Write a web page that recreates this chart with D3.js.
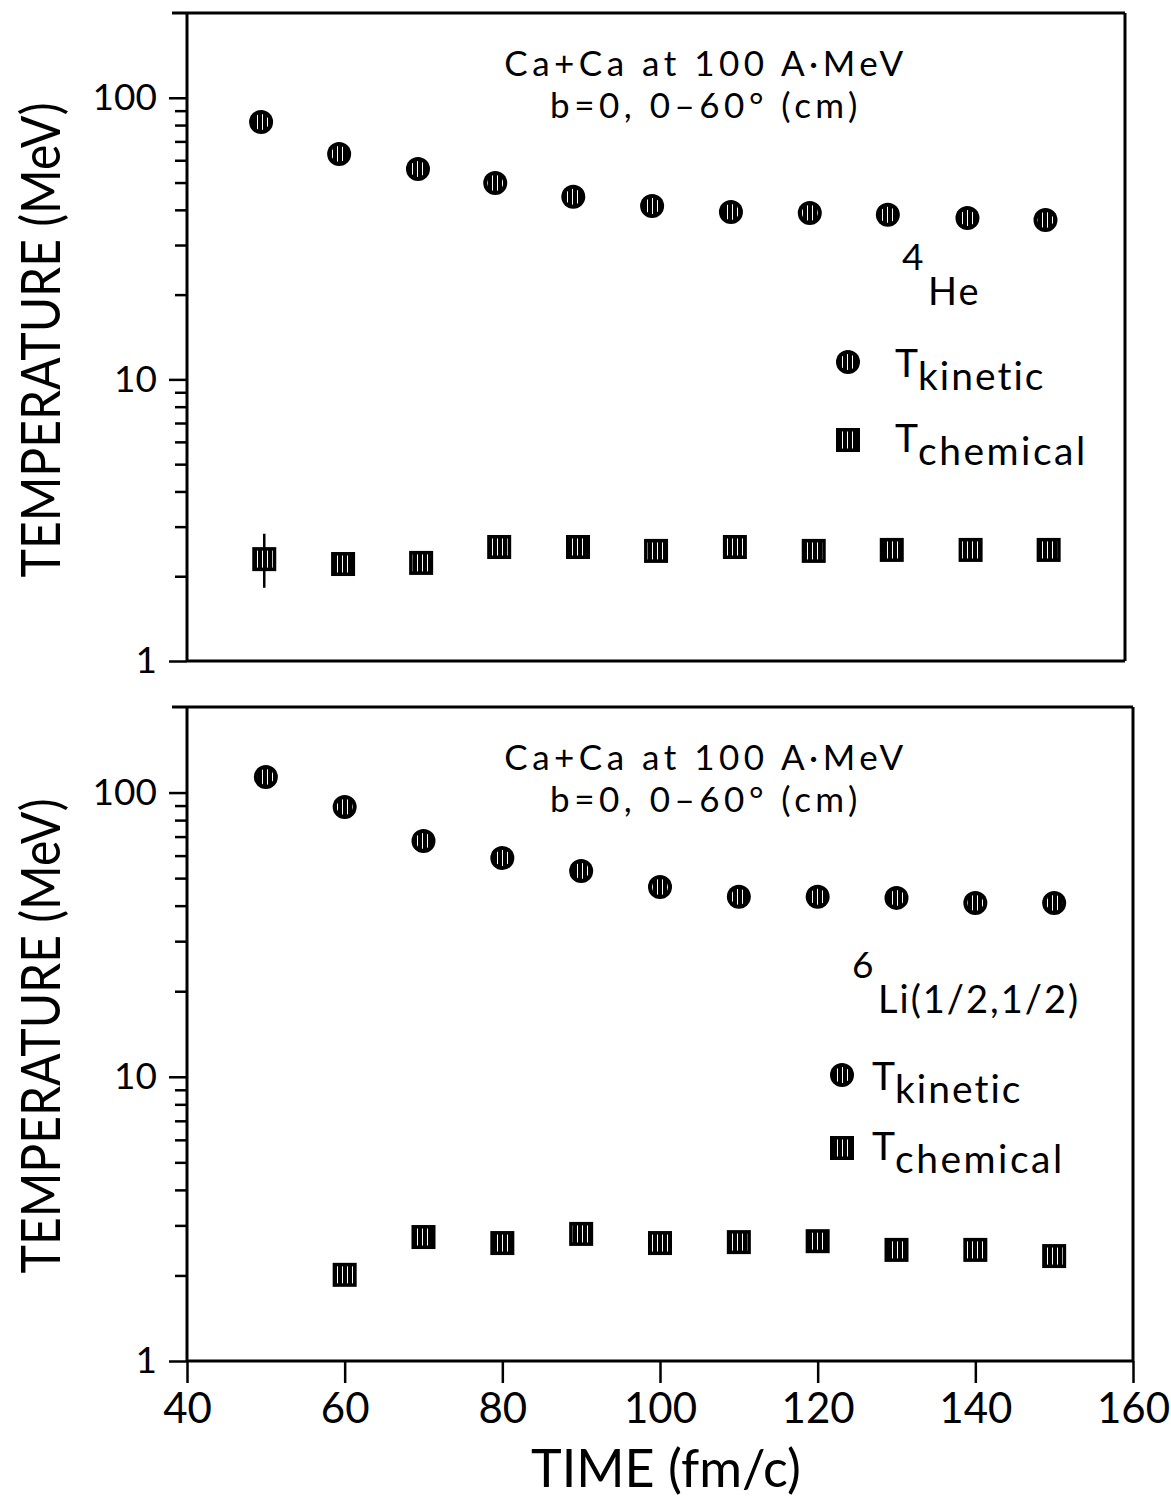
<!DOCTYPE html>
<html><head><meta charset="utf-8">
<script src="https://cdn.jsdelivr.net/npm/d3@7"></script>
<style>
body{margin:0;background:#fff}
svg{display:block}
text{font-family:Lato,'Open Sans',sans-serif;fill:#000}
</style>
</head><body>
<svg id="c" width="1171" height="1502"></svg>
<script>
// ---- data ----
const xTickValues = [40, 60, 80, 100, 120, 140, 160];
const yMajorTicks = [1, 10, 100];
const yMinorTicks = [2, 3, 4, 5, 6, 7, 8, 9, 20, 30, 40, 50, 60, 70, 80, 90];

const heTimeKinetic = [49.4, 59.3, 69.3, 79.1, 89, 99, 109, 119, 128.9, 139, 148.9];
const heKinetic = [82, 63.2, 55.9, 49.8, 44.5, 41.3, 39.3, 39.0, 38.4, 37.4, 36.8];
const heTimeChemical = [49.8, 59.8, 69.7, 79.6, 89.6, 99.5, 109.5, 119.5, 129.4, 139.4, 149.3];
const heChemical = [2.30, 2.21, 2.23, 2.54, 2.54, 2.46, 2.54, 2.46, 2.48, 2.48, 2.48];
const heChemErrLow = [1.82, null, null, null, null, null, null, null, null, null, null];
const heChemErrHigh = [2.83, null, null, null, null, null, null, null, null, null, null];

const liTimeKinetic = [50, 60, 70, 80, 90, 100, 110, 120, 130, 140, 150];
const liKinetic = [113.5, 89, 67.6, 58.9, 53, 46.5, 43, 43, 42.6, 40.9, 40.9];
const liTimeChemical = [60, 70, 80, 90, 100, 110, 120, 130, 140, 150];
const liChemical = [2.01, 2.73, 2.60, 2.80, 2.60, 2.62, 2.64, 2.46, 2.46, 2.34];

const titleLines = ["Ca+Ca at 100 A\u00B7MeV", "b=0, 0\u201360\u00B0 (cm)"];
const yLabel = "TEMPERATURE (MeV)";
const xLabel = "TIME (fm/c)";

// ---- drawing ----
const svg = d3.select("#c");
const defs = svg.append("defs");
const pat = defs.append("pattern").attr("id", "hatch")
  .attr("patternUnits", "userSpaceOnUse").attr("width", 5).attr("height", 6);
pat.append("rect").attr("width", 5).attr("height", 6).attr("fill", "#000");
pat.append("rect").attr("x", 2).attr("width", 1).attr("height", 6).attr("fill", "#fff");

const X0 = 187, X1 = 1133;
const x = d3.scaleLinear().domain([40, 160]).range([X0, X1]);

function circleMarker(g, cx, cy) {
  g.append("circle").attr("cx", cx).attr("cy", cy).attr("r", 12).attr("fill", "#000");
  g.append("circle").attr("cx", cx).attr("cy", cy).attr("r", 8).attr("fill", "url(#hatch)");
}
function squareMarker(g, cx, cy) {
  g.append("rect").attr("x", cx - 12).attr("y", cy - 12).attr("width", 24).attr("height", 24).attr("fill", "#000");
  g.append("rect").attr("x", cx - 8.5).attr("y", cy - 8.5).attr("width", 17).attr("height", 17).attr("fill", "url(#hatch)");
}

function panel(cfg) {
  const g = svg.append("g");
  const y = d3.scaleLog().domain([1, 200]).range([cfg.bottom, cfg.top]);
  // frame
  const fr = g.append("g").attr("stroke", "#000").attr("stroke-width", 3).attr("fill", "none");
  fr.append("line").attr("x1", 172).attr("x2", cfg.right).attr("y1", cfg.top).attr("y2", cfg.top);
  fr.append("line").attr("x1", cfg.right).attr("x2", cfg.right).attr("y1", cfg.top).attr("y2", cfg.bottom);
  fr.append("line").attr("x1", X0).attr("x2", cfg.right).attr("y1", cfg.bottom).attr("y2", cfg.bottom);
  fr.append("line").attr("x1", X0).attr("x2", X0).attr("y1", cfg.top).attr("y2", cfg.bottom);

  // y axis major
  const ya = g.append("g").attr("transform", `translate(${X0},0)`)
    .call(d3.axisLeft(y).tickValues(yMajorTicks).tickSize(18).tickPadding(12)
      .tickFormat(d3.format("d")));
  ya.select(".domain").remove();
  ya.selectAll("line").attr("stroke", "#000").attr("stroke-width", 2.5);
  ya.selectAll("text").style("font-size", "37px").style("font-family", "Lato,'Open Sans',sans-serif");
  const ym = g.append("g").attr("transform", `translate(${X0},0)`)
    .call(d3.axisLeft(y).tickValues(yMinorTicks).tickSize(12).tickFormat(""));
  ym.select(".domain").remove();
  ym.selectAll("line").attr("stroke", "#000").attr("stroke-width", 2.5);

  if (cfg.xAxis) {
    const xa = g.append("g").attr("transform", `translate(0,${cfg.bottom})`)
      .call(d3.axisBottom(x).tickValues(xTickValues).tickSize(22).tickPadding(10)
        .tickFormat(d3.format("d")));
    xa.select(".domain").remove();
    xa.selectAll("line").attr("stroke", "#000").attr("stroke-width", 2.5);
    xa.selectAll("text").style("font-size", "42px").style("font-family", "Lato,'Open Sans',sans-serif");
  }

  // y label
  g.append("text").attr("transform", `translate(60,${cfg.labelY}) rotate(-90)`)
    .attr("text-anchor", "middle").style("font-size", "55px")
    .attr("textLength", 475).attr("lengthAdjust", "spacingAndGlyphs")
    .text(yLabel);

  // title
  titleLines.forEach((t, i) => {
    g.append("text").attr("x", 706).attr("y", cfg.top + 63 + i * 42)
      .attr("text-anchor", "middle").style("font-size", "35px").style("letter-spacing", "4.5px")
      .text(t);
  });

  // error bars
  if (cfg.errLow) {
    cfg.errLow.forEach((lo, i) => {
      if (lo == null) return;
      g.append("line").attr("x1", x(cfg.tc[i])).attr("x2", x(cfg.tc[i]))
        .attr("y1", y(lo)).attr("y2", y(cfg.errHigh[i]))
        .attr("stroke", "#000").attr("stroke-width", 2.5);
    });
  }
  // data
  cfg.kin.forEach((v, i) => circleMarker(g, x(cfg.tk[i]), y(v)));
  cfg.chem.forEach((v, i) => squareMarker(g, x(cfg.tc[i]), y(v)));

  // legend
  const L = cfg.legend;
  g.append("text").attr("x", L.supX).attr("y", L.supY).style("font-size", "37px").text(L.sup);
  g.append("text").attr("x", L.nucX).attr("y", L.nucY).style("font-size", "38px").style("letter-spacing", "2px").text(L.nuc);
  circleMarker(g, L.mx, L.kY - 15);
  const t1 = g.append("text").attr("x", L.tx).attr("y", L.kY).style("font-size", "39px");
  t1.append("tspan").text("T");
  t1.append("tspan").attr("dy", 13).style("letter-spacing", "2px").text("kinetic");
  squareMarker(g, L.mx, L.cY - 12);
  const t2 = g.append("text").attr("x", L.tx).attr("y", L.cY).style("font-size", "39px");
  t2.append("tspan").text("T");
  t2.append("tspan").attr("dy", 13).style("letter-spacing", "2.5px").text("chemical");
}

panel({
  top: 13, bottom: 661, right: 1125, labelY: 340, xAxis: false,
  tk: heTimeKinetic, kin: heKinetic, tc: heTimeChemical, chem: heChemical,
  errLow: heChemErrLow, errHigh: heChemErrHigh,
  legend: { sup: "4", supX: 902, supY: 270, nuc: "He", nucX: 928, nucY: 305,
            mx: 848, tx: 895, kY: 377, cY: 452 }
});
panel({
  top: 707, bottom: 1361, right: 1133, labelY: 1036, xAxis: true,
  tk: liTimeKinetic, kin: liKinetic, tc: liTimeChemical, chem: liChemical,
  legend: { sup: "6", supX: 852, supY: 978, nuc: "Li(1/2,1/2)", nucX: 878, nucY: 1013,
            mx: 842, tx: 872, kY: 1090, cY: 1160 }
});

svg.append("text").attr("x", 666).attr("y", 1487).attr("text-anchor", "middle")
  .style("font-size", "52px").text(xLabel);
</script>
</body></html>
